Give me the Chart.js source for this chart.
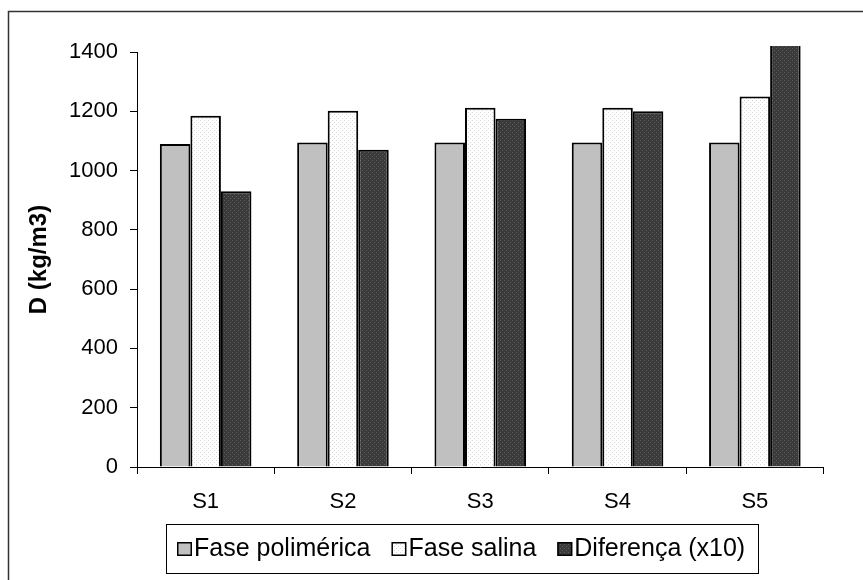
<!DOCTYPE html>
<html>
<head>
<meta charset="utf-8">
<script src="https://cdn.jsdelivr.net/npm/chart.js@4/dist/chart.umd.min.js"></script>
<style>
  html, body { margin: 0; padding: 0; background: #ffffff; }
  #wrap { width: 863px; height: 580px; }
</style>
</head>
<body>
<div id="wrap"><canvas id="c" width="863" height="580"></canvas></div>
<script>
const categories = ['S1', 'S2', 'S3', 'S4', 'S5'];
const seriesNames = ['Fase polimérica', 'Fase salina', 'Diferença (x10)'];
const polimerica = [1090, 1095, 1095, 1095, 1095];
const salina = [1185, 1202, 1212, 1212, 1250];
const diferenca = [930, 1070, 1175, 1200, 1450];
const yTicks = [0, 200, 400, 600, 800, 1000, 1200, 1400];
const yTitle = 'D (kg/m3)';

function makePattern(bg, dot) {
  const c = document.createElement('canvas');
  c.width = 4; c.height = 4;
  const x = c.getContext('2d');
  x.fillStyle = bg; x.fillRect(0, 0, 4, 4);
  x.fillStyle = dot;
  x.fillRect(0, 0, 1, 1); x.fillRect(2, 2, 1, 1);
  return x.createPattern(c, 'repeat');
}
const fillPoli = '#c0c0c0';
const fillSalina = makePattern('#ffffff', '#d6d6d6');
const fillDif = makePattern('#3a3a3a', '#5e5e5e');

const FONT = "'Liberation Sans', Arial, sans-serif";

const frameAndLegend = {
  id: 'frameAndLegend',
  beforeDraw(chart) {
    const ctx = chart.ctx;
    ctx.save();
    ctx.fillStyle = '#ffffff';
    ctx.fillRect(0, 0, chart.width, chart.height);
    ctx.strokeStyle = '#333333';
    ctx.lineWidth = 1.5;
    ctx.strokeRect(8.5, 11.5, 1000, 1000);
    ctx.restore();
  },
  afterDraw(chart) {
    const ctx = chart.ctx;
    ctx.save();
    ctx.strokeStyle = '#000000';
    ctx.lineWidth = 1;
    ctx.strokeRect(166.5, 524.5, 592, 49);
    ctx.font = '25px ' + FONT;
    ctx.textBaseline = 'middle';
    ctx.textAlign = 'left';
    let x = 177;
    const yMid = 549;
    chart.data.datasets.forEach((ds) => {
      ctx.fillStyle = ds.backgroundColor;
      ctx.fillRect(x, yMid - 7, 15, 14);
      ctx.strokeStyle = '#000000';
      ctx.lineWidth = 1.5;
      ctx.strokeRect(x + 0.75, yMid - 6.25, 13.5, 12.5);
      ctx.fillStyle = '#000000';
      ctx.fillText(ds.label, x + 17, yMid);
      x += 17 + ctx.measureText(ds.label).width + 21;
    });
    ctx.restore();
  }
};

const common = { borderColor: '#000000', borderWidth: 2, barPercentage: 1.0, categoryPercentage: 0.667 };

new Chart(document.getElementById('c'), {
  type: 'bar',
  data: {
    labels: categories,
    datasets: [
      Object.assign({ label: seriesNames[0], data: polimerica, backgroundColor: fillPoli }, common),
      Object.assign({ label: seriesNames[1], data: salina, backgroundColor: fillSalina }, common),
      Object.assign({ label: seriesNames[2], data: diferenca, backgroundColor: fillDif,
        clip: { left: 0, top: 6, right: 0, bottom: 0 } }, common)
    ]
  },
  options: {
    responsive: false,
    animation: false,
    devicePixelRatio: 1,
    layout: { padding: { top: 52, right: 39.5, bottom: 49.6, left: 0 } },
    plugins: {
      legend: { display: false },
      tooltip: { enabled: false },
      title: { display: false }
    },
    scales: {
      x: {
        offset: true,
        grid: { display: true, drawOnChartArea: false, drawTicks: true, tickLength: 7, color: '#000000', offset: true },
        border: { display: true, color: '#000000', width: 1 },
        ticks: { color: '#000000', font: { family: FONT, size: 22 }, padding: 15 }
      },
      y: {
        min: 0,
        max: 1400,
        afterFit(scale) { scale.width = 137; },
        afterBuildTicks(scale) { scale.ticks = yTicks.map(v => ({ value: v })); },
        grid: { display: true, drawOnChartArea: false, drawTicks: true, tickLength: 7, color: '#000000' },
        border: { display: true, color: '#000000', width: 1 },
        ticks: { color: '#000000', font: { family: FONT, size: 22 }, padding: 12,
          callback: (v) => String(v) },
        title: { display: true, text: yTitle, color: '#000000', font: { family: FONT, size: 24, weight: 'bold' }, padding: { top: 25, bottom: 0 } }
      }
    }
  },
  plugins: [frameAndLegend]
});
</script>
</body>
</html>
